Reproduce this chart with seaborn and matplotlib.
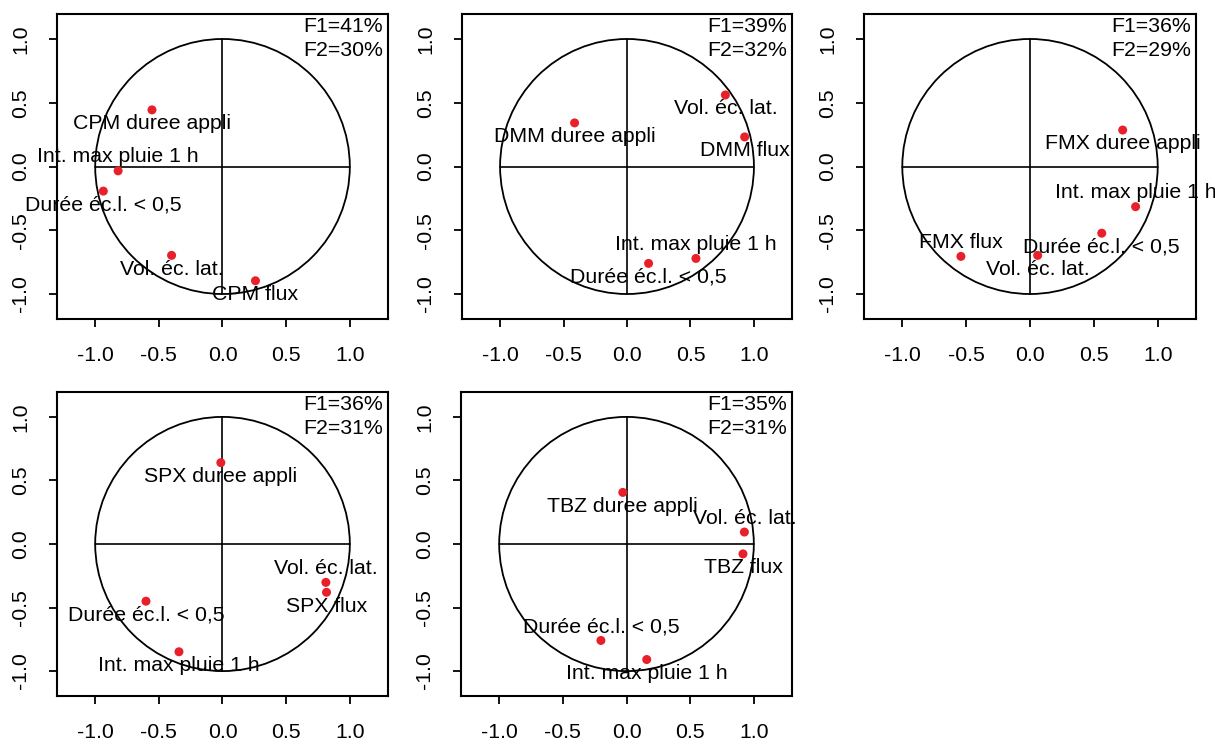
import matplotlib
matplotlib.use("Agg")
import matplotlib.pyplot as plt
from matplotlib.patches import Circle
import pandas as pd
import seaborn as sns

# ==========================================
# DATA: correlation circles (F1 x F2) per product
# ==========================================
cpm_labels = ["CPM duree appli", "Int. max pluie 1 h", "Durée éc.l. < 0,5", "Vol. éc. lat.", "CPM flux"]
cpm_x = [-0.554, -0.82, -0.936, -0.40, 0.259]
cpm_y = [0.444, -0.034, -0.193, -0.697, -0.896]
cpm_side = ["below", "above", "below", "below", "below"]

dmm_labels = ["DMM duree appli", "Vol. éc. lat.", "DMM flux", "Int. max pluie 1 h", "Durée éc.l. < 0,5"]
dmm_x = [-0.413, 0.775, 0.927, 0.543, 0.170]
dmm_y = [0.342, 0.561, 0.232, -0.721, -0.760]
dmm_side = ["below", "below", "below", "above", "below"]

fmx_labels = ["FMX duree appli", "Int. max pluie 1 h", "Durée éc.l. < 0,5", "Vol. éc. lat.", "FMX flux"]
fmx_x = [0.726, 0.827, 0.562, 0.060, -0.541]
fmx_y = [0.286, -0.315, -0.523, -0.697, -0.705]
fmx_side = ["below", "above", "below", "below", "above"]

spx_labels = ["SPX duree appli", "Vol. éc. lat.", "SPX flux", "Durée éc.l. < 0,5", "Int. max pluie 1 h"]
spx_x = [-0.013, 0.812, 0.817, -0.601, -0.342]
spx_y = [0.640, -0.302, -0.380, -0.450, -0.848]
spx_side = ["below", "above", "below", "below", "below"]

tbz_labels = ["TBZ duree appli", "Vol. éc. lat.", "TBZ flux", "Durée éc.l. < 0,5", "Int. max pluie 1 h"]
tbz_x = [-0.029, 0.926, 0.915, -0.201, 0.159]
tbz_y = [0.406, 0.094, -0.078, -0.759, -0.909]
tbz_side = ["below", "above", "below", "above", "below"]

f1_pct = [41, 39, 36, 36, 35]
f2_pct = [30, 32, 29, 31, 31]

panels = [
    (cpm_labels, cpm_x, cpm_y, cpm_side),
    (dmm_labels, dmm_x, dmm_y, dmm_side),
    (fmx_labels, fmx_x, fmx_y, fmx_side),
    (spx_labels, spx_x, spx_y, spx_side),
    (tbz_labels, tbz_x, tbz_y, tbz_side),
]

# ==========================================
# STYLE (mimic R base graphics)
# ==========================================
sns.set_style("white")
plt.rcParams['font.family'] = ['Liberation Sans', 'DejaVu Sans']
plt.rcParams['text.color'] = 'black'
plt.rcParams['xtick.color'] = 'black'
plt.rcParams['ytick.color'] = 'black'
FS = 15.3

W, H = 1215, 744
fig = plt.figure(figsize=(W / 100, H / 100), dpi=100)

# axes boxes in pixels: (left, top, right, bottom)
boxes = [
    (57, 14, 388, 319),
    (462, 14, 792, 319),
    (864, 14, 1196, 319),
    (57, 392, 388, 696),
    (461, 392, 792, 696),
]

ticks = [-1.0, -0.5, 0.0, 0.5, 1.0]
point_color = "#E8202A"

for i, (labels, xs, ys, sides) in enumerate(panels):
    l, t, r, b = boxes[i]
    ax = fig.add_axes([l / W, 1 - b / H, (r - l) / W, (b - t) / H])
    df = pd.DataFrame({"x": xs, "y": ys, "label": labels, "side": sides})

    ax.add_patch(Circle((0, 0), 1, fill=False, color="black", lw=1.3))
    ax.plot([-1, 1], [0, 0], color="black", lw=1.2)
    ax.plot([0, 0], [-1, 1], color="black", lw=1.2)

    sns.scatterplot(data=df, x="x", y="y", ax=ax, color=point_color,
                    s=42, edgecolor="none", legend=False, zorder=3)

    for _, row in df.iterrows():
        dy = -10 if row["side"] == "below" else 10
        ax.annotate(row["label"], (row["x"], row["y"]), xytext=(0, dy),
                    textcoords="offset points", ha="center", va="center",
                    fontsize=FS, color="black", zorder=4)

    ax.text(0.985, 0.99, f"F1={f1_pct[i]}%\nF2={f2_pct[i]}%",
            transform=ax.transAxes, ha="right", va="top",
            fontsize=FS, color="black", linespacing=1.35)

    ax.set_xlim(-1.3, 1.3)
    ax.set_ylim(-1.196, 1.196)
    ax.set_xticks(ticks)
    ax.set_yticks(ticks)
    ax.set_xticklabels([f"{v:.1f}" for v in ticks])
    ax.set_yticklabels([f"{v:.1f}" for v in ticks], rotation=90, va="center")
    ax.set_xlabel("")
    ax.set_ylabel("")
    ax.tick_params(direction="out", length=5.5, width=1.3, pad=14,
                   labelsize=FS, colors="black", left=True, bottom=True)
    for sp in ax.spines.values():
        sp.set_color("black")
        sp.set_linewidth(1.5)

fig.savefig("out.png", dpi=100, facecolor="white")
